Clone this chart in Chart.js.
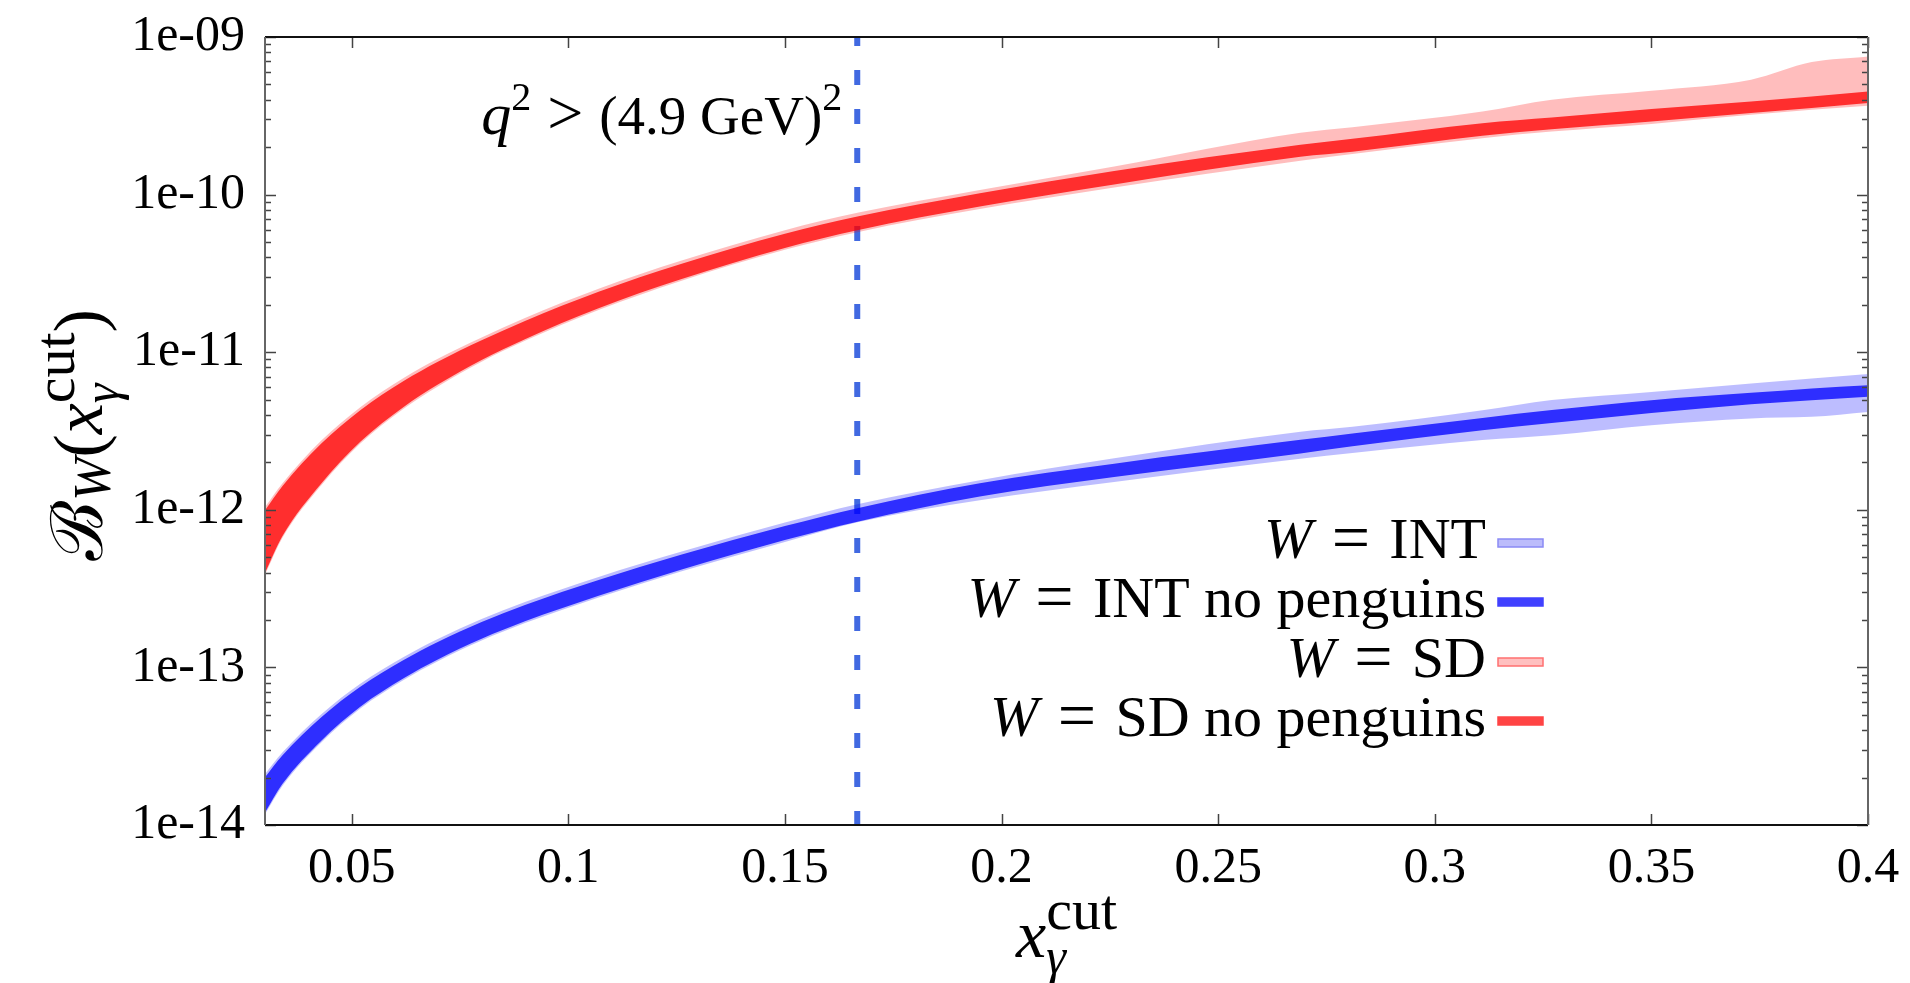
<!DOCTYPE html>
<html>
<head>
<meta charset="utf-8">
<script src="https://cdn.jsdelivr.net/npm/chart.js@4.4.1/dist/chart.umd.min.js"></script>
<style>
html, body { margin: 0; padding: 0; background: #fff; }
#wrap { width: 1910px; height: 983px; }
</style>
</head>
<body>
<div id="wrap"><canvas id="chart" width="1910" height="983"></canvas></div>
<script>
const xCut = [0.03, 0.034, 0.043, 0.052, 0.062, 0.07, 0.08, 0.09, 0.107, 0.126, 0.15, 0.167, 0.195, 0.226, 0.269, 0.281, 0.311, 0.327, 0.35, 0.373, 0.387, 0.4];

// W = INT (light band)
const intHi = [2.1e-14, 2.88e-14, 5.05e-14, 7.88e-14, 1.165e-13, 1.52e-13, 2.03e-13, 2.6e-13, 3.75e-13, 5.41e-13, 8.3e-13, 1.09e-12, 1.54e-12, 2.12e-12, 3.13e-12, 3.36e-12, 4.28e-12, 4.97e-12, 5.6e-12, 6.34e-12, 6.82e-12, 7.27e-12];
const intLo = [1.17e-14, 1.77e-14, 3.34e-14, 5.48e-14, 8.31e-14, 1.097e-13, 1.48e-13, 1.91e-13, 2.78e-13, 4.06e-13, 6.25e-13, 8.37e-13, 1.15e-12, 1.5e-12, 2.11e-12, 2.29e-12, 2.77e-12, 2.97e-12, 3.44e-12, 3.8e-12, 3.89e-12, 4.18e-12];
// W = INT no penguins
const intNpHi = [2.01e-14, 2.76e-14, 4.83e-14, 7.54e-14, 1.115e-13, 1.457e-13, 1.943e-13, 2.49e-13, 3.585e-13, 5.18e-13, 7.88e-13, 1.028e-12, 1.476e-12, 1.963e-12, 2.78e-12, 3.05e-12, 3.83e-12, 4.29e-12, 4.96e-12, 5.52e-12, 5.89e-12, 6.18e-12];
const intNpLo = [1.2e-14, 1.82e-14, 3.43e-14, 5.62e-14, 8.52e-14, 1.125e-13, 1.518e-13, 1.96e-13, 2.85e-13, 4.16e-13, 6.43e-13, 8.43e-13, 1.213e-12, 1.614e-12, 2.28e-12, 2.53e-12, 3.2e-12, 3.56e-12, 4.12e-12, 4.68e-12, 4.96e-12, 5.21e-12];
// W = SD (light band)
const sdHi = [1.04e-12, 1.47e-12, 2.75e-12, 4.48e-12, 6.86e-12, 9.12e-12, 1.24e-11, 1.65e-11, 2.53e-11, 3.8e-11, 5.95e-11, 7.7e-11, 1.07e-10, 1.51e-10, 2.47e-10, 2.68e-10, 3.37e-10, 4.0e-10, 4.56e-10, 5.36e-10, 6.93e-10, 7.53e-10];
const sdLo = [3.87e-13, 6.62e-13, 1.43e-12, 2.63e-12, 4.38e-12, 6.09e-12, 8.7e-12, 1.18e-11, 1.85e-11, 2.83e-11, 4.46e-11, 5.8e-11, 8.1e-11, 1.11e-10, 1.64e-10, 1.81e-10, 2.28e-10, 2.51e-10, 2.81e-10, 3.21e-10, 3.45e-10, 3.66e-10];
// W = SD no penguins
const sdNpHi = [9.93e-13, 1.41e-12, 2.63e-12, 4.285e-12, 6.56e-12, 8.73e-12, 1.19e-11, 1.58e-11, 2.42e-11, 3.63e-11, 5.65e-11, 7.3e-11, 1.02e-10, 1.41e-10, 2.07e-10, 2.26e-10, 2.84e-10, 3.08e-10, 3.49e-10, 3.9e-10, 4.19e-10, 4.51e-10];
const sdNpLo = [3.97e-13, 6.79e-13, 1.47e-12, 2.7e-12, 4.49e-12, 6.25e-12, 8.93e-12, 1.21e-11, 1.9e-11, 2.9e-11, 4.59e-11, 5.96e-11, 8.39e-11, 1.16e-10, 1.74e-10, 1.87e-10, 2.36e-10, 2.6e-10, 2.91e-10, 3.29e-10, 3.54e-10, 3.81e-10];

const q2Cut = 0.1667; // q^2 > (4.9 GeV)^2

const xTicks = [0.05, 0.1, 0.15, 0.2, 0.25, 0.3, 0.35, 0.4];
const xTickLabels = ['0.05', '0.1', '0.15', '0.2', '0.25', '0.3', '0.35', '0.4'];
const yDecades = [-14, -13, -12, -11, -10, -9];
const yTickLabels = ['1e-14', '1e-13', '1e-12', '1e-11', '1e-10', '1e-09'];

const SERIF = "'Liberation Serif', 'DejaVu Serif', serif";

const C_INT_LIGHT = 'rgba(0,0,255,0.26)';
const C_INT_DARK = 'rgba(0,0,255,0.76)';
const C_SD_LIGHT = 'rgba(255,0,0,0.26)';
const C_SD_DARK = 'rgba(255,0,0,0.76)';

function pts(ys) { return xCut.map((x, i) => ({ x: x, y: ys[i] })); }

function edge(ys, order) {
    return { data: pts(ys), borderWidth: 0, borderColor: 'rgba(0,0,0,0)', pointRadius: 0, fill: false, order: order, cubicInterpolationMode: 'monotone' };
}
function band(ys, color, order) {
    return { data: pts(ys), borderWidth: 0, borderColor: 'rgba(0,0,0,0)', pointRadius: 0, fill: '-1', backgroundColor: color, order: order, cubicInterpolationMode: 'monotone' };
}

// text with sub/superscripts: groups of pieces, pieces in a group share x
function pieceFont(p) { return (p.italic ? 'italic ' : '') + p.size + 'px ' + SERIF; }
function mathWidth(ctx, groups) {
    let w = 0;
    groups.forEach(g => {
        let adv = 0;
        g.forEach(p => { ctx.font = pieceFont(p); adv = Math.max(adv, ctx.measureText(p.t).width); });
        w += adv;
    });
    return w;
}
function drawMath(ctx, groups, x, y, align) {
    const w = mathWidth(ctx, groups);
    let cx = align === 'right' ? x - w : (align === 'center' ? x - w / 2 : x);
    ctx.textAlign = 'left';
    ctx.textBaseline = 'alphabetic';
    groups.forEach(g => {
        let adv = 0;
        g.forEach(p => {
            ctx.font = pieceFont(p);
            ctx.fillText(p.t, cx, y + (p.dy || 0));
            adv = Math.max(adv, ctx.measureText(p.t).width);
        });
        cx += adv;
    });
}

const frameTicks = {
    id: 'frameTicks',
    afterDatasetsDraw(chart) {
        const { ctx, chartArea: a } = chart;
        const xs = chart.scales.x, ys = chart.scales.y;
        ctx.save();
        ctx.lineWidth = 1.5;
        ctx.strokeStyle = '#444';
        ctx.beginPath();
        xTicks.forEach(v => {
            const px = Math.round(xs.getPixelForValue(v)) + 0.5;
            ctx.moveTo(px, a.bottom); ctx.lineTo(px, a.bottom - 11);
            ctx.moveTo(px, a.top); ctx.lineTo(px, a.top + 11);
        });
        yDecades.forEach(e => {
            const major = Math.pow(10, e);
            const py = Math.round(ys.getPixelForValue(major)) + 0.5;
            ctx.moveTo(a.left, py); ctx.lineTo(a.left + 11, py);
            ctx.moveTo(a.right, py); ctx.lineTo(a.right - 11, py);
            if (e < -9) {
                for (let m = 2; m <= 9; m++) {
                    const pm = Math.round(ys.getPixelForValue(m * major)) + 0.5;
                    ctx.moveTo(a.left, pm); ctx.lineTo(a.left + 6, pm);
                    ctx.moveTo(a.right, pm); ctx.lineTo(a.right - 6, pm);
                }
            }
        });
        ctx.stroke();

        ctx.lineWidth = 2;
        ctx.strokeStyle = '#111';
        ctx.beginPath();
        ctx.moveTo(a.left, a.top); ctx.lineTo(a.right, a.top);
        ctx.moveTo(a.left, a.bottom); ctx.lineTo(a.right, a.bottom);
        ctx.stroke();
        ctx.strokeStyle = '#666';
        ctx.beginPath();
        ctx.moveTo(a.left, a.top); ctx.lineTo(a.left, a.bottom);
        ctx.moveTo(a.right, a.top); ctx.lineTo(a.right, a.bottom);
        ctx.stroke();
        ctx.restore();
    }
};

const texts = {
    id: 'texts',
    afterDraw(chart) {
        const { ctx, chartArea: a } = chart;
        ctx.save();
        ctx.fillStyle = '#000';

        // annotation next to the cut line
        const cutX = chart.scales.x.getPixelForValue(q2Cut);
        drawMath(ctx, [
            [{ t: 'q', size: 60, italic: true }],
            [{ t: '2', size: 40, dy: -24 }],
            [{ t: '\u2005>\u2005', size: 64 }],
            [{ t: '(4.9 GeV)', size: 55 }],
            [{ t: '2', size: 40, dy: -24 }]
        ], cutX - 15, 134, 'right');

        // x axis title
        drawMath(ctx, [
            [{ t: 'x', size: 68, italic: true }],
            [{ t: 'cut', size: 58, dy: -28 }, { t: 'γ', size: 50, italic: true, dy: 16 }]
        ], (a.left + a.right) / 2, 957, 'center');

        // y axis title
        ctx.translate(102, (a.top + a.bottom) / 2 + 4);
        ctx.rotate(-Math.PI / 2);
        drawMath(ctx, [
            [{ t: 'ℬ', size: 72 }],
            [{ t: 'W', size: 52, italic: true, dy: 8 }],
            [{ t: '(', size: 70 }],
            [{ t: 'x', size: 70, italic: true }],
            [{ t: 'cut', size: 58, dy: -28 }, { t: 'γ', size: 50, italic: true, dy: 16 }],
            [{ t: ')', size: 70 }]
        ], 0, 0, 'center');
        ctx.restore();

        // legend
        const rows = [
            { label: 'INT', fill: '#bcbcfb', stroke: '#8a8af5' },
            { label: 'INT no penguins', fill: '#4040ff', stroke: '#4040ff' },
            { label: 'SD', fill: '#ffc0c0', stroke: '#ff7070' },
            { label: 'SD no penguins', fill: '#ff4444', stroke: '#ff4444' }
        ];
        const baselines = [558, 617, 677, 736];
        ctx.save();
        rows.forEach((r, i) => {
            ctx.fillStyle = '#000';
            drawMath(ctx, [
                [{ t: 'W', size: 58, italic: true }],
                [{ t: '\u2004', size: 58 }],
                [{ t: '=', size: 68, dy: 2 }],
                [{ t: '\u2004' + r.label, size: 58 }]
            ], 1486, baselines[i], 'right');
            ctx.fillStyle = r.fill;
            ctx.strokeStyle = r.stroke;
            ctx.lineWidth = 1.5;
            ctx.fillRect(1498, baselines[i] - 19, 45, 8);
            ctx.strokeRect(1498, baselines[i] - 19, 45, 8);
        });
        ctx.restore();
    }
};

const datasets = [
    edge(intLo, 8), band(intHi, C_INT_LIGHT, 8),
    edge(intNpLo, 7), band(intNpHi, C_INT_DARK, 7),
    edge(sdLo, 6), band(sdHi, C_SD_LIGHT, 6),
    edge(sdNpLo, 5), band(sdNpHi, C_SD_DARK, 5),
    {
        data: [{ x: q2Cut, y: Math.pow(10, yDecades[yDecades.length - 1]) }, { x: q2Cut, y: Math.pow(10, yDecades[0]) }],
        borderColor: '#4169e1', borderWidth: 6, borderDash: [15, 24], borderDashOffset: 6,
        pointRadius: 0, fill: false, order: 10
    }
];

new Chart(document.getElementById('chart'), {
    type: 'line',
    data: { datasets: datasets },
    options: {
        responsive: false,
        animation: false,
        layout: { padding: { top: 37, right: 42, left: 0, bottom: 0 } },
        plugins: { legend: { display: false }, tooltip: { enabled: false } },
        scales: {
            x: {
                type: 'linear', min: 0.03, max: 0.4,
                grid: { display: false, drawTicks: false },
                border: { display: false },
                afterBuildTicks: s => { s.ticks = xTicks.map(v => ({ value: v })); },
                afterFit: s => { s.height = 158; s.paddingLeft = 0; s.paddingRight = 0; },
                ticks: {
                    autoSkip: false, maxRotation: 0, padding: 14, color: '#000',
                    font: { family: SERIF, size: 50 },
                    callback: (v, i) => xTickLabels[i]
                }
            },
            y: {
                type: 'logarithmic', min: 1e-14, max: 1e-9,
                grid: { display: false, drawTicks: false },
                border: { display: false },
                afterBuildTicks: s => { s.ticks = yDecades.map(e => ({ value: Math.pow(10, e) })); },
                afterFit: s => { s.width = 265; s.paddingTop = 0; s.paddingBottom = 0; },
                ticks: {
                    autoSkip: false, padding: 20, color: '#000',
                    font: { family: SERIF, size: 50 },
                    callback: (v, i) => yTickLabels[i]
                }
            }
        }
    },
    plugins: [frameTicks, texts]
});
</script>
</body>
</html>
